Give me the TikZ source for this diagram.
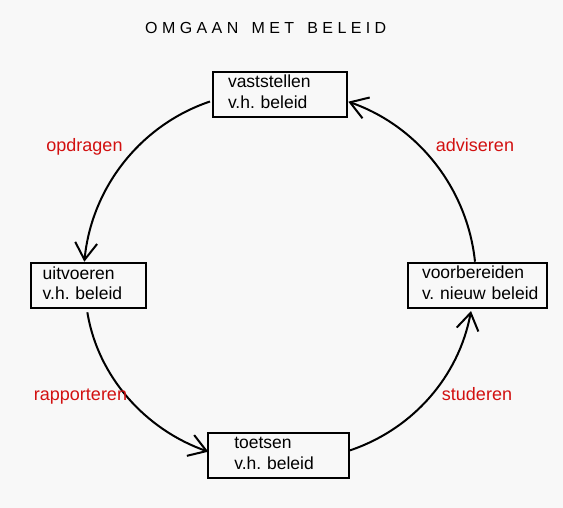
\documentclass[tikz,border=0pt]{standalone}
\usepackage{fontspec}
\setmainfont{Liberation Sans}
\usetikzlibrary{arrows.meta}
\definecolor{bgc}{RGB}{248,248,248}
\definecolor{lab}{RGB}{210,16,16}
\newcommand\tsp{\kern4.4pt}
\begin{document}
\begin{tikzpicture}[x=1pt,y=1pt,
  box/.style={draw,line width=2pt,anchor=north west,inner ysep=0pt,outer sep=0pt,
    align=left,font=\fontsize{17.5}{20.5}\selectfont},
  conn/.style={line width=2pt,-{Straight Barb[length=17pt,width=22pt]}},
  lbl/.style={text=lab,anchor=base,inner sep=0pt,font=\fontsize{18}{20}\selectfont}]
\fill[bgc] (0,0) rectangle (563,-508);
\useasboundingbox (0,0) rectangle (563,-508);

\node[anchor=base west,inner sep=0pt,font=\fontsize{16}{18}\selectfont] (title) at (145,-34)
  {O\tsp M\tsp G\tsp A\tsp A\tsp N\tsp\ \tsp M\tsp E\tsp T\tsp\ \tsp B\tsp E\tsp L\tsp E\tsp I\tsp D};

\node[box,text width=104pt,inner xsep=15pt] (vast) at (213,-72)
  {\rule{0pt}{16pt}vaststellen\\v.h.~beleid\rule[-8.5pt]{0pt}{8.5pt}};
\node[box,text width=91.3pt,inner xsep=12pt] (uit) at (30.7,-263.3)
  {\rule{0pt}{16pt}uitvoeren\\v.h.~beleid\rule[-8.5pt]{0pt}{8.5pt}};
\node[box,text width=88.7pt,inner xsep=26pt] (toe) at (208.3,-432.7)
  {\rule{0pt}{16pt}toetsen\\v.h.~beleid\rule[-8.5pt]{0pt}{8.5pt}};
\node[box,text width=111.6pt,inner xsep=13.7pt] (voor) at (408.3,-262.7)
  {\rule{0pt}{16pt}voorbereiden\\v.~nieuw~beleid\rule[-8.5pt]{0pt}{8.5pt}};

\draw[conn] ([shift={(-3,-7)}]vast.west) .. controls +(-70,-23.6) and +(7.1,73.5) .. ([shift={(-4,1.6)}]uit.north);
\draw[conn] ([shift={(-1,-4)}]uit.south) .. controls +(10.7,-65.1) and +(-62.3,21.9) .. ([shift={(0,3.5)}]toe.west);
\draw[conn] ([shift={(0,4.5)}]toe.east) .. controls +(63.5,21.1) and +(-12.2,-65.8) .. ([shift={(-6.8,-3.3)}]voor.south);
\draw[conn] ([shift={(-2.8,1)}]voor.north) .. controls +(-7.6,73.3) and +(69.6,-24.2) .. ([shift={(1.3,-7.2)}]vast.east);

\node[lbl] (l1) at (84.5,-151.5) {opdragen};
\node[lbl] (l2) at (475,-151.7) {adviseren};
\node[lbl] (l3) at (80.5,-400.5) {rapporteren};
\node[lbl] (l4) at (477,-400.7) {studeren};
\end{tikzpicture}
\end{document}
